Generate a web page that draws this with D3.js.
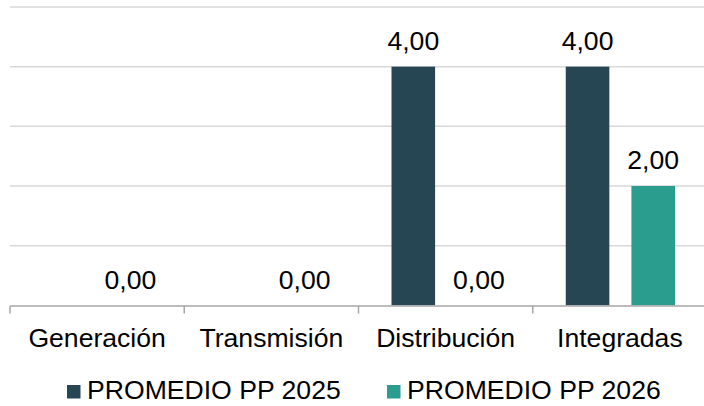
<!DOCTYPE html>
<html><head><meta charset="utf-8">
<script src="https://cdn.jsdelivr.net/npm/d3@7"></script>
<style>body{margin:0;background:#fff}svg{display:block}text{font-family:"Liberation Sans",Arial,sans-serif}</style>
</head><body><div id="c"></div>
<script>
const categories = ["Generación","Transmisión","Distribución","Integradas"];
const seriesNames = ["PROMEDIO PP 2025","PROMEDIO PP 2026"];
const values2025 = [null, null, 4, 4];
const values2026 = [0, 0, 0, 2];
const yTicks = [0,1,2,3,4,5];
const colors = ["#264653","#2a9d8f"];

(function(){
const W=704,H=406;
const svg=d3.select("#c").append("svg").attr("width",W).attr("height",H);
const pL=10,pR=707,pT=7,pB=305.3;
const x0=d3.scaleBand().domain(categories).range([pL,pR]).padding(0);
const x1=d3.scaleBand().domain(seriesNames).range([33,x0.bandwidth()-32]).paddingInner(0.336).paddingOuter(0);
const y=d3.scaleLinear().domain([0,5]).range([pB,pT]);

svg.append("g").selectAll("line").data(yTicks.filter(d=>d>0)).join("line")
 .attr("x1",pL).attr("x2",pR).attr("y1",d=>y(d)).attr("y2",d=>y(d))
 .attr("stroke","#d9d9d9").attr("stroke-width",1.5);

const fs=26.6;
const data=[values2025,values2026];
data.forEach((vals,si)=>{
  const g=svg.append("g");
  categories.forEach((c,i)=>{
    const v=vals[i];
    if(v===null) return;
    const bx=x0(c)+x1(seriesNames[si]);
    if(v>0) g.append("rect").attr("x",bx).attr("y",y(v)).attr("width",x1.bandwidth()).attr("height",y(0)-y(v)).attr("fill",colors[si]);
    g.append("text").attr("x",bx+x1.bandwidth()/2).attr("y",y(v)-16.5).attr("text-anchor","middle")
     .attr("font-size",fs).attr("fill","#000").text(d3.format(".2f")(v).replace(".",","));
  });
});

const ax=svg.append("g").attr("transform",`translate(0,${pB+0.7})`);
ax.append("line").attr("x1",pL).attr("x2",pR).attr("stroke","#a6a6a6").attr("stroke-width",1.5);
const tickPos=categories.map(c=>x0(c)).concat([pR]);
ax.selectAll("line.t").data(tickPos).join("line").attr("class","t")
 .attr("x1",d=>d).attr("x2",d=>d).attr("y1",0).attr("y2",7.5).attr("stroke","#a6a6a6").attr("stroke-width",1.5);
ax.selectAll("text").data(categories).join("text")
 .attr("x",d=>x0(d)+x0.bandwidth()/2).attr("y",41).attr("text-anchor","middle")
 .attr("font-size",fs).attr("fill","#000").text(d=>d);

const legX=[67,387];
seriesNames.forEach((s,i)=>{
  svg.append("rect").attr("x",legX[i]).attr("y",385).attr("width",13.5).attr("height",13.5).attr("fill",colors[i]);
  svg.append("text").attr("x",legX[i]+20).attr("y",398.5).attr("font-size",fs).attr("fill","#000").text(s);
});
})();
</script></body></html>
